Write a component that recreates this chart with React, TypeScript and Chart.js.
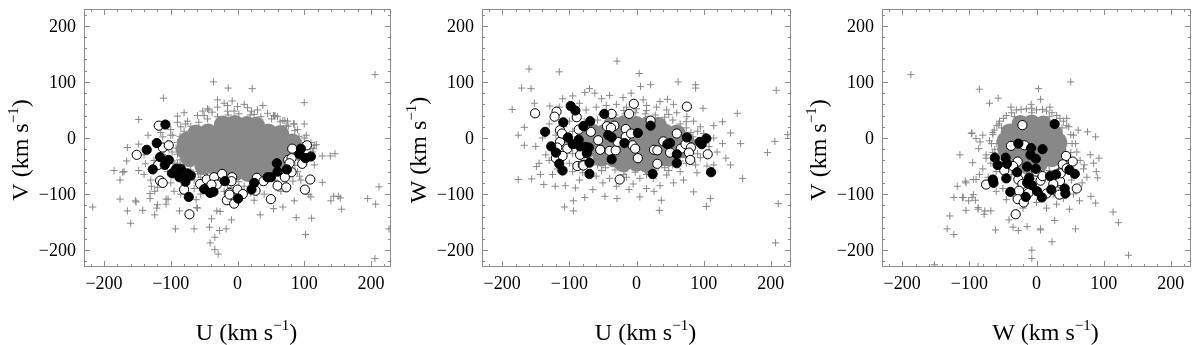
import React, { useEffect, useRef } from "react";
import { Chart, registerables } from "chart.js";

Chart.register(...registerables);

// ---------- shared axis settings ----------
const AXIS_MIN = -230;
const AXIS_MAX = 230;
const MAJOR_TICKS = [-200, -100, 0, 100, 200];

// ---------- Panel 1: U vs V ----------
const uvCore: number[][] = [
  [-22, 24], [-4, 25], [14, 23], [28, 22],
  [-62, 8], [-44, 10], [-26, 9], [-8, 11], [10, 9], [28, 8], [46, 10], [64, 7],
  [-76, -5], [-58, -6], [-40, -4], [-22, -6], [-4, -5], [14, -7], [32, -5], [50, -6], [68, -4], [82, -8],
  [-79, -21], [-61, -20], [-43, -22], [-25, -21], [-7, -20], [11, -22], [29, -21], [47, -20], [65, -22], [83, -21],
  [-72, -36], [-54, -35], [-36, -37], [-18, -36], [0, -35], [18, -37], [36, -36], [54, -35], [72, -37],
  [-51, -50], [-33, -52], [-15, -51], [3, -50], [21, -52], [39, -51], [57, -50],
  [-20, -61], [-2, -60], [16, -62], [28, -59],
];
const uvEdge: number[][] = [
  [98, -18], [92, 3], [76, 21], [51, 34], [19, 41], [-14, 41], [-45, 34], [-70, 21], [-86, 3], [-92, -18],
  [-86, -39], [-70, -57], [-45, -70], [-14, -77], [19, -77], [51, -70], [76, -57], [92, -39],
  [109, -18], [103, 5], [84, 25], [56, 40], [21, 48], [-15, 48], [-50, 40], [-78, 25], [-97, 5], [-103, -18],
  [-97, -41], [-78, -61], [-50, -76], [-15, -84], [21, -84], [56, -76], [84, -61], [103, -41],
  [95, -8], [86, 13], [64, 29], [35, 38], [2, 43], [-30, 38], [-58, 28], [-80, 12], [-90, -8], [-90, -29],
  [-79, -49], [-58, -64], [-30, -74], [2, -78], [35, -74], [64, -64], [86, -49], [95, -29],
];
const uvHalo: number[][] = [
  [-60, 40], [-45, 52], [-30, 55], [-15, 58], [0, 56], [15, 54], [30, 50], [45, 44], [60, 38], [75, 30],
  [-75, 30], [-85, 20], [-20, 62], [10, 60], [-5, 48], [25, 42], [-38, 46], [-52, 48], [38, 58], [-8, 66],
  [-100, 5], [-105, -10], [-98, -25], [-108, -35], [-95, -45], [-100, 15], [-90, 28], [-112, 2], [-88, -8],
  [90, 15], [100, 0], [105, -15], [112, -25], [98, -42], [85, 25], [110, -8], [92, -5], [88, -30], [118, -12],
  [-30, -85], [-10, -88], [10, -86], [35, -80], [55, -75], [-55, -70], [70, -62], [80, -55], [-65, -75],
  [-20, -95], [20, -98], [-45, -90], [-140, -65], [-130, -75], [-100, -80], [-95, -95], [-85, -100],
  [-65, -90], [-55, -100], [-62, -110], [-120, -88], [90, -60], [95, -75], [65, -95], [40, -100],
  [-60, -60], [-90, -45], [-105, -60], [-110, -22], [-125, -40], [-140, -30], [-115, 10], [-80, 45],
];
const uvCross: number[][] = [
  [-36, 100], [-14, 89], [-111, 71], [-30, 68], [-148, 33], [-90, 39], [-43, 50], [-165, -17], [-148, -11],
  [-166, -41], [-185, -58], [-172, -61], [-148, -58], [-176, -75], [-138, -46], [-176, -109], [-217, -123],
  [-152, -114], [-165, -130], [-142, -129], [-160, -152], [-124, -137], [-120, -119], [-107, -109],
  [-131, -99], [-93, -162], [-65, -162], [-60, -125], [-42, -159], [-39, -144], [-27, -165], [-17, -162],
  [-34, -177], [-41, -187], [-34, -199], [-29, -207], [-9, -146], [-26, -131],
  [-134, 5], [-170, -60], [-129, -86], [-124, -95], [-131, -108], [-153, -112], [-104, -109], [-107, -118],
  [-121, -125], [-61, -124], [-31, -130], [-87, -130],
  [22, 88], [206, 113], [100, 63], [100, 25], [56, 39], [71, 31], [54, 40], [68, 31], [73, 22],
  [127, -32], [139, -32], [146, -28], [114, -19], [115, -13], [127, -79], [110, -105], [140, -112],
  [151, -104], [156, -127], [212, -87], [195, -108], [207, -118], [227, -162], [206, -215], [102, -172],
  [111, -143], [88, -142], [85, -112], [68, -123], [54, -126], [34, -137], [25, -111], [83, -77],
  [144, -104], [154, -107], [107, -101], [93, -68], [115, -48],
];
const uvFilled: number[][] = [
  [-108, 24], [-121, -9], [-136, -21], [-116, -34], [-103, -39], [-127, -56], [-109, -48], [-98, -63],
  [-92, -55], [-85, -55], [-87, -70], [-75, -63], [-70, -67], [-78, -78], [-73, -105], [-50, -91],
  [-41, -98], [-36, -96], [-19, -77], [1, -108],
  [95, -19], [93, -29], [102, -36], [110, -33], [59, -45], [60, -60], [74, -56], [45, -70], [50, -70],
  [25, -80], [21, -92],
];
const uvOpen: number[][] = [
  [-118, 22], [-151, -30], [-112, -17], [-103, -13], [-119, -48], [-116, -76], [-112, -80], [-80, -92],
  [-72, -136], [-56, -82], [-46, -74], [-35, -70], [-23, -64], [-31, -83], [-8, -70], [-9, -77],
  [-12, -98], [0, -92], [-16, -111], [-5, -117], [-39, -83], [-12, -101],
  [82, -19], [104, -13], [76, -39], [81, -36], [78, -45], [97, -46], [81, -61], [71, -70], [109, -74],
  [101, -92], [60, -85], [73, -88], [50, -109], [29, -71], [39, -77], [27, -94], [8, -100],
];

// ---------- Panel 2: U vs W ----------
const uwCore: number[][] = [
  [-36, 24], [-18, 25], [0, 23], [18, 24], [32, 22],
  [-66, 10], [-48, 9], [-30, 11], [-12, 10], [6, 9], [24, 11], [42, 10], [60, 8],
  [-77, -5], [-59, -4], [-41, -6], [-23, -5], [-5, -4], [13, -6], [31, -5], [49, -4], [67, -6], [73, -5],
  [-73, -20], [-55, -21], [-37, -19], [-19, -20], [-1, -21], [17, -19], [35, -20], [53, -21], [69, -20],
  [-52, -35], [-34, -36], [-16, -34], [2, -35], [20, -36], [38, -34], [48, -35],
  [-20, -45], [0, -44], [16, -46],
];
const uwEdge: number[][] = [
  [86, -8], [81, 10], [65, 25], [42, 37], [13, 43], [-17, 43], [-46, 37], [-69, 25], [-85, 10], [-90, -8],
  [-85, -26], [-69, -41], [-46, -53], [-17, -59], [13, -59], [42, -53], [65, -41], [81, -26],
  [97, -8], [91, 12], [74, 29], [48, 42], [15, 49], [-19, 49], [-52, 42], [-78, 29], [-95, 12], [-101, -8],
  [-95, -28], [-78, -45], [-52, -58], [-19, -65], [15, -65], [48, -58], [74, -45], [91, -28],
  [84, 2], [74, 18], [54, 32], [28, 41], [-2, 45], [-32, 41], [-58, 32], [-78, 18], [-88, 2], [-88, -18],
  [-78, -34], [-58, -48], [-32, -57], [-2, -61], [28, -57], [54, -48], [74, -34], [84, -18],
];
const uwHalo: number[][] = [
  [-90, 40], [-75, 50], [-60, 55], [-45, 58], [-30, 60], [-15, 55], [0, 52], [15, 58], [30, 55], [45, 50],
  [60, 45], [75, 38], [-52, 70], [-20, 72], [10, 68], [35, 65], [55, 60], [85, 30],
  [-100, 30], [-108, 20], [-120, 5], [-105, -5], [-125, -20], [-110, -30], [-130, -40], [-100, -45],
  [-118, -55], [-135, -30], [-140, 0], [-95, -60], [-130, 25], [-145, -45], [-125, -65],
  [95, 20], [100, 8], [108, -15], [95, -35], [88, -48], [115, 0], [120, -25], [105, -50], [90, -62],
  [-80, -62], [-60, -68], [-40, -72], [-15, -70], [5, -72], [25, -72], [45, -66], [65, -60], [-50, -80],
  [-5, -82], [35, -85], [70, -75], [-85, -75], [55, -80], [-30, -86], [15, -90],
  [-110, 70], [-95, 75], [-85, 62], [-62, 80], [-40, 76], [-115, 55], [-8, 80],
];
const uwCross: number[][] = [
  [-160, 123], [-115, 118], [-29, 137], [-171, 89], [-157, 88], [-185, 51], [-152, 62], [-129, 57],
  [-70, 88], [-77, 81], [-176, 5], [-167, 19], [-167, -13], [-150, -15], [-149, -51], [-143, -65],
  [-176, -74], [-156, -73], [-138, -83], [-121, -86], [-106, -85], [-91, -89], [-107, -123], [-94, -130],
  [-94, -112], [-77, -106], [-65, -92], [-47, -104], [-29, -108], [-11, -92], [4, 115], [6, 92],
  [21, 95], [62, 100], [88, 95], [88, 89], [46, 69], [99, 53], [128, 29], [115, 22], [150, 44], [140, 9],
  [155, -10], [128, -10], [133, -36], [140, -48], [158, -72], [115, -48], [110, -108], [104, -122],
  [85, -96], [37, -111], [34, -129], [26, -95], [5, -105], [208, 85], [225, 6], [206, -6], [195, -26],
  [211, -117], [207, -187],
];
const uwFilled: number[][] = [
  [-98, 57], [-91, 49], [-109, 28], [-136, 11], [-102, 1], [-127, -15], [-120, -26], [-115, -46],
  [-110, -58], [-95, -11], [-86, -3], [-84, -15], [-76, -16], [-71, -17], [-74, -27], [-70, -44],
  [-70, -64], [-79, 21], [-69, 30], [-48, 43], [-42, 5], [-37, 1], [-37, -38], [-18, -9], [2, 9],
  [21, 22], [24, -64], [46, -11], [50, -9], [60, -29], [60, -45], [75, 1], [94, -7], [104, -1],
  [111, -61], [97, -11],
];
const uwOpen: number[][] = [
  [-119, 47], [-122, 38], [-89, 37], [-114, 14], [-114, -7], [-118, -17], [-112, -33], [-120, -36],
  [-103, -19], [-86, 15], [-84, -30], [-88, -50], [-80, -48], [-68, 11], [-57, -4], [-54, -21],
  [-44, 21], [-37, 43], [-33, 22], [-40, -23], [-31, -22], [-28, -7], [-16, 16], [-16, 2], [-8, 8],
  [-4, 61], [-6, -13], [-2, -19], [2, -36], [-25, -74], [-11, 43], [21, 31], [26, -21], [31, -22],
  [31, -46], [40, -6], [50, -26], [60, 8], [66, -19], [73, -11], [75, 56], [81, -17], [78, -26],
  [80, -39], [106, -29], [-151, 44], [-38, 18], [-77, 21], [-110, -32], [-111, 8], [-79, -49],
];

// ---------- Panel 3: W vs V ----------
const wvCore: number[][] = [
  [-24, 25], [-7, 26], [10, 24],
  [-40, 10], [-22, 11], [-4, 9], [14, 10], [26, 8],
  [-46, -5], [-28, -4], [-10, -6], [8, -5], [26, -4], [32, -6],
  [-45, -20], [-27, -21], [-9, -19], [9, -20], [27, -21], [31, -20],
  [-37, -35], [-19, -36], [-1, -34], [17, -35], [23, -36],
  [-15, -48], [3, -47],
];
const wvEdge: number[][] = [
  [45, -10], [38, 18], [19, 38], [-7, 45], [-33, 38], [-52, 18], [-59, -10], [-52, -38], [-33, -58],
  [-7, -65], [19, -58], [38, -38],
  [53, -10], [45, 22], [23, 45], [-7, 53], [-37, 45], [-59, 22], [-67, -10], [-59, -42], [-37, -65],
  [-7, -73], [23, -65], [45, -42],
  [51, 6], [35, 35], [9, 51], [-23, 51], [-49, 35], [-65, 6], [-65, -26], [-49, -55], [-23, -71],
  [9, -71], [35, -55], [51, -26],
];
const wvHalo: number[][] = [
  [-45, 40], [-30, 50], [-15, 52], [0, 50], [15, 48], [30, 40], [40, 30], [-55, 30], [-8, 60], [20, 55],
  [-38, 55], [-65, 10], [-70, -5], [-62, -20], [-75, -30], [-68, -45], [-80, -55], [-85, -65], [-72, -70],
  [-60, -60], [-97, 8], [-80, 5], [-84, -7], [48, 20], [55, 5], [58, -10], [60, -25], [65, -40], [70, -55],
  [75, -70], [68, -80], [52, -75], [80, -30], [85, -45], [45, 35], [-50, -90], [-35, -100], [-10, -95],
  [10, -105], [25, -100], [40, -108], [-45, -110], [0, -115], [30, -118], [55, -100], [-20, -125],
  [-60, -95], [15, -125],
];
const wvCross: number[][] = [
  [-187, 113], [-85, 87], [-70, 62], [-57, 71], [3, 88], [-96, 9], [-90, -1], [-86, -19], [-114, -30],
  [-95, -44], [-75, -36], [-90, -74], [-105, -80], [-118, -86], [-123, -106], [-110, -106], [-94, -101],
  [-91, -111], [-105, -129], [-129, -139], [-133, -162], [-123, -172], [-87, -127], [-78, -136],
  [-68, -130], [-61, -164], [-41, -146], [-35, -159], [-27, -165], [-14, -158], [6, -164], [-7, -200],
  [-7, -215], [-152, -226], [-87, -229], [-56, 25], [-63, 14], [-106, -77], [-94, -74], [-109, -106],
  [-101, -112], [-96, -106], [-87, -124], [-77, -130],
  [51, 100], [6, 69], [88, 2], [93, -36], [89, -60], [91, -71], [81, -104], [88, -116], [71, -48],
  [76, 11], [62, 14], [114, -132], [122, -151], [137, -209], [58, -162], [27, -147], [23, -185],
  [6, -162], [49, -127], [64, -112],
];
const wvFilled: number[][] = [
  [27, 25], [-27, -10], [-8, -18], [9, -20], [-9, -30], [-1, -37], [-62, -35], [-46, -35], [-58, -48],
  [-44, -46], [-29, -61], [-14, -51], [-1, -55], [-11, -71], [-45, -72], [-65, -74], [-64, -80],
  [-14, -80], [-7, -84], [20, -68], [29, -65], [49, -57], [57, -64], [22, -92], [42, -90], [-39, -96],
  [-16, -105], [1, -95], [8, -106], [43, -99],
];
const wvOpen: number[][] = [
  [-21, 23], [-38, -14], [-18, -13], [-28, -42], [-48, -58], [-27, -74], [0, -60], [6, -76], [9, -68],
  [-21, -82], [-26, -94], [-28, -109], [-19, -115], [-31, -136], [-75, -83], [35, -77], [39, -57],
  [44, -32], [54, -42], [39, -47], [60, -90], [30, -95], [15, -99], [-35, -50], [-5, -90], [-12, -98],
  [25, -82], [36, -63], [34, -101], [45, -54],
];

// ---------- drawing ----------
const GRAY = "#888888";
const FRAME = "#8c8c8c";
const SERIF = '"Liberation Serif", "Times New Roman", serif';
const TITLE_SIZE = 24;
const SUP_SIZE = 15;
const TICK_SIZE = 18;

const toXY = (arr: number[][]) => arr.map(([x, y]) => ({ x, y }));
const fmtTick = (v: number) => String(v).replace("-", "\u2212");

function drawUnitLabel(ctx: CanvasRenderingContext2D, letter: string, x: number, y: number, rotate: boolean) {
  ctx.save();
  ctx.translate(x, y);
  if (rotate) ctx.rotate(-Math.PI / 2);
  const mainFont = `${TITLE_SIZE}px ${SERIF}`;
  const supFont = `${SUP_SIZE}px ${SERIF}`;
  const main = `${letter} (km s`;
  ctx.font = mainFont;
  const w1 = ctx.measureText(main).width;
  const w3 = ctx.measureText(")").width;
  ctx.font = supFont;
  const w2 = ctx.measureText("\u22121").width;
  const total = w1 + w2 + w3;
  const sx = -total / 2;
  ctx.fillStyle = "#000";
  ctx.textAlign = "left";
  ctx.textBaseline = "alphabetic";
  ctx.font = mainFont;
  ctx.fillText(main, sx, 0);
  ctx.font = supFont;
  ctx.fillText("\u22121", sx + w1, -10);
  ctx.font = mainFont;
  ctx.fillText(")", sx + w1 + w2, 0);
  ctx.restore();
}

const framePlugin = {
  id: "frameTitles",
  afterDraw(chart: any, _args: any, opts: any) {
    const { ctx, chartArea: a, scales } = chart;
    ctx.save();
    ctx.strokeStyle = FRAME;
    ctx.lineWidth = 1;
    ctx.strokeRect(a.left + 0.5, a.top + 0.5, a.right - a.left - 1, a.bottom - a.top - 1);
    ctx.beginPath();
    for (let v = -220; v <= 220; v += 20) {
      const len = v % 100 === 0 ? 6 : 3;
      const px = Math.round(scales.x.getPixelForValue(v)) + 0.5;
      ctx.moveTo(px, a.bottom);
      ctx.lineTo(px, a.bottom - len);
      ctx.moveTo(px, a.top);
      ctx.lineTo(px, a.top + len);
      const py = Math.round(scales.y.getPixelForValue(v)) + 0.5;
      ctx.moveTo(a.left, py);
      ctx.lineTo(a.left + len, py);
      ctx.moveTo(a.right, py);
      ctx.lineTo(a.right - len, py);
    }
    ctx.stroke();
    // tick labels
    ctx.fillStyle = "#000";
    ctx.font = `${TICK_SIZE}px ${SERIF}`;
    ctx.textBaseline = "alphabetic";
    ctx.textAlign = "center";
    for (const v of MAJOR_TICKS) {
      ctx.fillText(fmtTick(v), scales.x.getPixelForValue(v), a.bottom + 22);
    }
    ctx.textAlign = "right";
    for (const v of MAJOR_TICKS) {
      ctx.fillText(fmtTick(v), a.left - 8, scales.y.getPixelForValue(v) + 6);
    }
    ctx.restore();
    const cx = (a.left + a.right) / 2 + 9;
    drawUnitLabel(ctx, opts.xLetter, cx, 340, false);
    drawUnitLabel(ctx, opts.yLetter, a.left - 56, 150, true);
  },
};

type PanelProps = {
  core: number[][];
  edge: number[][];
  halo: number[][];
  cross: number[][];
  filled: number[][];
  open: number[][];
  xLetter: string;
  yLetter: string;
  left: number;
  axisWidth: number;
  padRight: number;
};

function Panel(p: PanelProps) {
  const ref = useRef<HTMLCanvasElement | null>(null);
  useEffect(() => {
    if (!ref.current) return;
    const chart = new Chart(ref.current, {
      type: "scatter",
      data: {
        datasets: [
          { data: toXY(p.filled), pointStyle: "circle", pointRadius: 4.6, backgroundColor: "#000", borderColor: "#000", borderWidth: 1 },
          { data: toXY(p.open), pointStyle: "circle", pointRadius: 4.6, backgroundColor: "#fff", borderColor: "#000", borderWidth: 1 },
          { data: toXY([...p.cross, ...p.halo, ...p.edge]), pointStyle: "cross", pointRadius: 3.6, borderColor: GRAY, backgroundColor: GRAY, borderWidth: 1 },
          { data: toXY(p.core), pointStyle: "circle", pointRadius: 9, backgroundColor: GRAY, borderColor: GRAY, borderWidth: 0 },
        ] as any,
      },
      options: {
        animation: false,
        responsive: false,
        maintainAspectRatio: false,
        events: [],
        layout: { padding: { top: 5, right: p.padRight, left: 0, bottom: 0 } },
        plugins: {
          legend: { display: false },
          tooltip: { enabled: false },
          frameTitles: { xLetter: p.xLetter, yLetter: p.yLetter },
        } as any,
        scales: {
          x: {
            type: "linear",
            min: AXIS_MIN,
            max: AXIS_MAX,
            grid: { display: false, drawTicks: false },
            border: { display: false },
            ticks: { display: false, stepSize: 100, includeBounds: false },
            afterFit: (s: any) => { s.height = 78; s.paddingLeft = 0; s.paddingRight = 0; },
          },
          y: {
            type: "linear",
            min: AXIS_MIN,
            max: AXIS_MAX,
            grid: { display: false, drawTicks: false },
            border: { display: false },
            ticks: { display: false, stepSize: 100, includeBounds: false },
            afterFit: (s: any) => { s.width = p.axisWidth; s.paddingTop = 0; s.paddingBottom = 0; },
          },
        } as any,
      },
      plugins: [framePlugin],
    });
    return () => chart.destroy();
  }, []);
  return (
    <canvas
      ref={ref}
      width={400}
      height={345}
      style={{ position: "absolute", left: p.left, top: 0, width: 400, height: 345 }}
    />
  );
}

export default function App() {
  return (
    <div style={{ position: "fixed", left: 0, top: 0, width: 1200, height: 345, background: "#fff" }}>
      <Panel core={uvCore} edge={uvEdge} halo={uvHalo} cross={uvCross} filled={uvFilled} open={uvOpen} xLetter="U" yLetter="V" left={0} axisWidth={84} padRight={1} />
      <Panel core={uwCore} edge={uwEdge} halo={uwHalo} cross={uwCross} filled={uwFilled} open={uwOpen} xLetter="U" yLetter="W" left={400} axisWidth={82} padRight={1} />
      <Panel core={wvCore} edge={wvEdge} halo={wvHalo} cross={wvCross} filled={wvFilled} open={wvOpen} xLetter="W" yLetter="V" left={800} axisWidth={82} padRight={3} />
    </div>
  );
}
